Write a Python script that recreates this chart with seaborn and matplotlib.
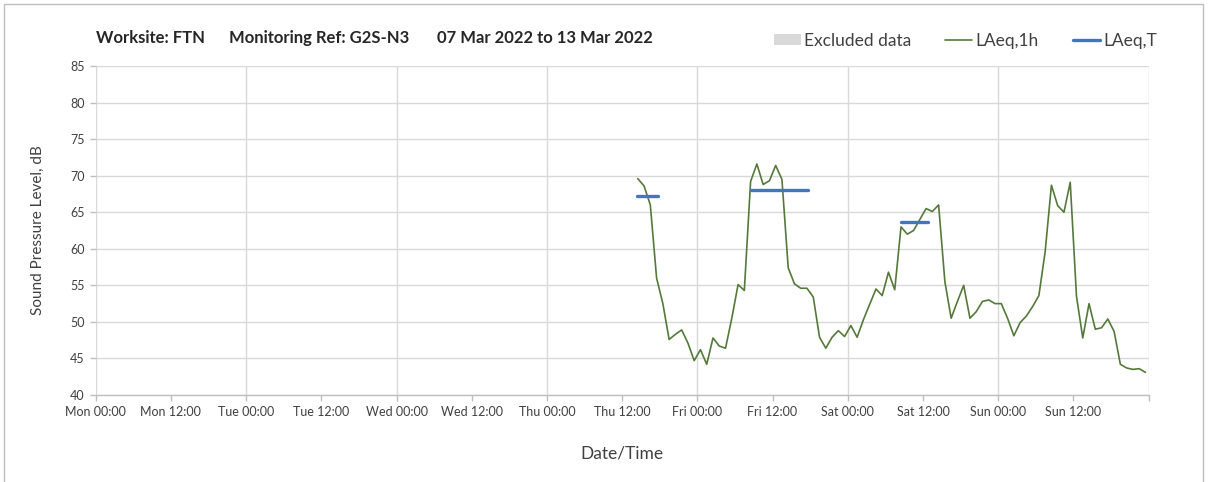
import matplotlib.pyplot as plt
import numpy as np
import pandas as pd
import seaborn as sns
from matplotlib.lines import Line2D
from matplotlib.patches import Patch, Rectangle

# Hourly LAeq,1h values, plotted at mid-hour (hours since Mon 00:00)
start_hour = 86.5
laeq_1h = [
    69.6, 68.6, 66.0, 56.0, 52.5, 47.6, 48.3, 48.9, 47.1, 44.7,
    46.2, 44.2, 47.8, 46.7, 46.4, 50.5, 55.1, 54.3, 69.2, 71.6,
    68.8, 69.3, 71.4, 69.5, 57.4, 55.2, 54.6, 54.6, 53.4, 47.9,
    46.4, 47.9, 48.8, 48.0, 49.5, 47.9, 50.3, 52.4, 54.5, 53.6,
    56.8, 54.4, 63.0, 62.0, 62.5, 64.0, 65.5, 65.1, 66.0, 55.5,
    50.5, 52.8, 55.0, 50.5, 51.4, 52.8, 53.0, 52.5, 52.5, 50.5,
    48.1, 49.9, 50.8, 52.1, 53.6, 59.6, 68.7, 65.9, 65.0, 69.1,
    53.5, 47.8, 52.5, 49.0, 49.2, 50.4, 48.7, 44.2, 43.7, 43.5,
    43.6, 43.1,
]
hours = start_hour + np.arange(len(laeq_1h))

# LAeq,T period levels: start hour, end hour, level
laeq_t_start = [86.4, 104.6, 128.5]
laeq_t_end = [89.7, 113.6, 132.8]
laeq_t_level = [67.2, 68.0, 63.6]

tick_labels = [
    "Mon 00:00", "Mon 12:00", "Tue 00:00", "Tue 12:00", "Wed 00:00",
    "Wed 12:00", "Thu 00:00", "Thu 12:00", "Fri 00:00", "Fri 12:00",
    "Sat 00:00", "Sat 12:00", "Sun 00:00", "Sun 12:00", "",
]

GREEN = "#55793a"
BLUE = "#4472c4"
GREY = "#d9d9d9"

sns.set_theme(style="white")
plt.rcParams["font.family"] = ["Lato", "DejaVu Sans"]

fig = plt.figure(figsize=(12.08, 4.82), dpi=100)
ax = fig.add_axes([0.0792, 0.1805, 0.8716, 0.6825])

df_1h = pd.DataFrame({"hour": hours, "level": laeq_1h})
sns.lineplot(data=df_1h, x="hour", y="level", color=GREEN, linewidth=1.2, ax=ax)

seg_rows = []
for i, (s, e, lv) in enumerate(zip(laeq_t_start, laeq_t_end, laeq_t_level)):
    seg_rows.append({"seg": i, "hour": s, "level": lv})
    seg_rows.append({"seg": i, "hour": e, "level": lv})
df_t = pd.DataFrame(seg_rows)
sns.lineplot(data=df_t, x="hour", y="level", units="seg", estimator=None,
             color=BLUE, linewidth=2.4, ax=ax)

ax.set_xlim(0, 168)
ax.set_ylim(40, 85)
ax.xaxis.remove_overlapping_locs = False
ax.set_xticks(np.arange(0, 169, 12))
ax.set_xticklabels(tick_labels)
ax.set_xticks(np.arange(0, 169, 24), minor=True)
ax.set_yticks(np.arange(40, 86, 5))

ax.grid(False)
ax.yaxis.grid(True, color="#d9d9d9", linewidth=1.0)
ax.xaxis.grid(True, which="minor", color="#d9d9d9", linewidth=1.0)
ax.set_axisbelow(True)

for side in ["top", "right", "left"]:
    ax.spines[side].set_visible(False)
ax.spines["bottom"].set_color("#bfbfbf")
ax.spines["bottom"].set_linewidth(1.0)

ax.tick_params(axis="x", which="major", bottom=True, length=4, width=1,
               color="#bfbfbf", labelsize=9, labelcolor="#404040", pad=4)
ax.tick_params(axis="x", which="minor", bottom=False)
ax.tick_params(axis="y", left=True, length=4, width=1, color="#bfbfbf",
               labelsize=9, labelcolor="#404040", pad=4)

ax.set_xlabel("Date/Time", fontsize=12.5, color="#404040", labelpad=20)
ax.set_ylabel("Sound Pressure Level, dB", fontsize=11, color="#404040", labelpad=18)

title_y = 1 - 38 / 482
fig.text(96 / 1208, title_y, "Worksite: FTN", fontsize=12, fontweight="bold",
         color="#262626", va="center", ha="left")
fig.text(229 / 1208, title_y, "Monitoring Ref: G2S-N3", fontsize=12,
         fontweight="bold", color="#262626", va="center", ha="left")
fig.text(437 / 1208, title_y, "07 Mar 2022 to 13 Mar 2022", fontsize=12,
         fontweight="bold", color="#262626", va="center", ha="left")

handles = [
    Patch(facecolor=GREY, edgecolor="none", label="Excluded data"),
    Line2D([0], [0], color=GREEN, linewidth=1.2, label="LAeq,1h"),
    Line2D([0], [0], color=BLUE, linewidth=2.4, label="LAeq,T"),
]
fig.legend(handles=handles, loc="center right", bbox_to_anchor=(1157 / 1208, 1 - 41 / 482),
           ncol=3, frameon=False, fontsize=12.5, handlelength=1.55, handleheight=0.6,
           handletextpad=0.2, columnspacing=1.95, labelcolor="#404040",
           borderpad=0, borderaxespad=0)

fig.add_artist(Rectangle((4 / 1208, -0.01), 1199 / 1208, 1 - 4 / 482 + 0.01,
                         transform=fig.transFigure, fill=False,
                         edgecolor="#bfbfbf", linewidth=1.0))

fig.savefig("out.png", dpi=100)
